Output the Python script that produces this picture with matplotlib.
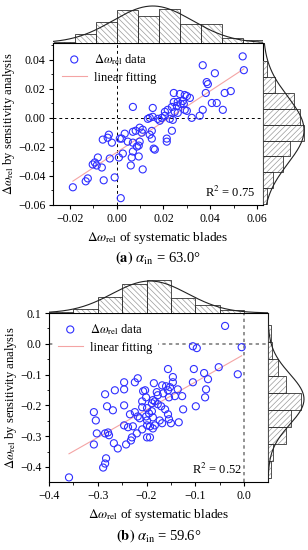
import numpy as np
import matplotlib.pyplot as plt
from matplotlib.ticker import AutoMinorLocator, FuncFormatter, MultipleLocator

plt.rcParams['font.family'] = ['Liberation Serif', 'DejaVu Serif']
plt.rcParams['mathtext.fontset'] = 'stix'
plt.rcParams['hatch.linewidth'] = 0.5

# ---- panel (a) data ----
a_x = [0.0539, 0.0544, 0.0368, 0.0420, 0.0385, 0.0390, 0.0381, 0.0462, 0.0488, 0.0407,
       0.0428, 0.0454, 0.0368, 0.0355, 0.0321, 0.0244, 0.0270, 0.0291, 0.0300, 0.0313,
       0.0244, 0.0261, 0.0283, 0.0257, 0.0274, 0.0287, 0.0236, 0.0218, 0.0206, 0.0248,
       0.0261, 0.0291, 0.0300, 0.0206, 0.0193, 0.0240, 0.0227, 0.0154, 0.0141, 0.0069,
       0.0133, 0.0098, 0.0111, 0.0081, 0.0107, 0.0069, 0.0034, 0.0013, 0.0021, -0.0034,
       -0.0039, -0.0060, -0.0021, 0.0047, 0.0069, 0.0098, 0.0094, 0.0086, 0.0141, 0.0150,
       0.0163, 0.0069, 0.0064, 0.0026, 0.0009, -0.0030, 0.0094, -0.0081, -0.0094, -0.0103,
       -0.0086, -0.0064, 0.0060, 0.0111, -0.0124, -0.0133, -0.0056, -0.0009, -0.0188, 0.0017,
       0.0158, 0.0184, 0.0154, 0.0176, 0.0236, 0.0214, 0.0214, 0.0150]
a_y = [0.0423, 0.0328, 0.0362, 0.0307, 0.0246, 0.0232, 0.0171, 0.0171, 0.0184, 0.0102,
       0.0102, 0.0055, 0.0055, 0.0014, 0.0000, 0.0171, 0.0164, 0.0157, 0.0150, 0.0137,
       0.0109, 0.0109, 0.0116, 0.0082, 0.0096, 0.0096, 0.0075, 0.0055, 0.0041, 0.0041,
       0.0034, 0.0055, 0.0048, 0.0014, 0.0000, -0.0014, -0.0007, 0.0068, 0.0000, 0.0075,
       -0.0007, -0.0068, -0.0082, -0.0089, -0.0102, -0.0096, -0.0109, -0.0143, -0.0143, -0.0116,
       -0.0137, -0.0150, -0.0171, -0.0164, -0.0171, -0.0164, -0.0191, -0.0198, -0.0116, -0.0143,
       -0.0219, -0.0232, -0.0273, -0.0246, -0.0273, -0.0280, -0.0266, -0.0273, -0.0307, -0.0321,
       -0.0328, -0.0342, -0.0328, -0.0355, -0.0417, -0.0437, -0.0430, -0.0410, -0.0478, -0.0553,
       -0.0212, -0.0020, 0.0007, -0.0007, -0.0089, -0.0143, -0.0164, -0.0090]
a_top_edges = [-0.027, -0.018, -0.009, 0.0, 0.009, 0.018, 0.027, 0.036, 0.045, 0.054, 0.063]
a_top_freq = [1, 9, 21, 33, 27, 34, 19, 19, 5, 3]
a_right_edges = [-0.0594, -0.0485, -0.0376, -0.0266, -0.0157, -0.0048, 0.0061, 0.0171, 0.028, 0.039]
a_right_freq = [4, 10, 20, 27, 41, 37, 31, 12, 4]
a_top_norm = (0.0154, 0.017, 37)     # mean, sd, peak
a_right_norm = (-0.0085, 0.023, 41)

# ---- panel (b) data ----
b_x = [-0.039, -0.105, -0.097, -0.005, -0.052, -0.103, -0.082, -0.013, -0.074, -0.105,
       -0.156, -0.078, -0.080, -0.146, -0.146, -0.185, -0.168, -0.160, -0.152, -0.136,
       -0.179, -0.177, -0.166, -0.156, -0.154, -0.127, -0.203, -0.218, -0.246, -0.246,
       -0.224, -0.207, -0.201, -0.285, -0.265, -0.281, -0.269, -0.246, -0.308, -0.304,
       -0.234, -0.224, -0.209, -0.209, -0.199, -0.189, -0.187, -0.201, -0.187, -0.214,
       -0.218, -0.246, -0.238, -0.228, -0.302, -0.285, -0.279, -0.277, -0.220, -0.230,
       -0.209, -0.199, -0.308, -0.267, -0.259, -0.242, -0.232, -0.283, -0.285, -0.289,
       -0.359, -0.183, -0.187, -0.199, -0.099, -0.125, -0.134, -0.156, -0.154, -0.150,
       -0.170, -0.162, -0.177, -0.183, -0.142, -0.189, -0.195, -0.199, -0.193, -0.173,
       -0.168, -0.193]
b_y = [0.058, -0.008, -0.014, -0.011, -0.076, -0.082, -0.095, -0.099, -0.115, -0.125,
       -0.082, -0.148, -0.174, -0.108, -0.125, -0.128, -0.135, -0.138, -0.141, -0.148,
       -0.157, -0.167, -0.161, -0.151, -0.174, -0.170, -0.151, -0.112, -0.125, -0.148,
       -0.125, -0.154, -0.174, -0.164, -0.151, -0.203, -0.216, -0.200, -0.222, -0.249,
       -0.229, -0.222, -0.187, -0.206, -0.209, -0.193, -0.183, -0.236, -0.239, -0.242,
       -0.236, -0.265, -0.271, -0.268, -0.291, -0.291, -0.288, -0.297, -0.291, -0.304,
       -0.278, -0.304, -0.327, -0.323, -0.340, -0.327, -0.314, -0.372, -0.389, -0.402,
       -0.434, -0.265, -0.275, -0.265, -0.203, -0.213, -0.255, -0.229, -0.245, -0.258,
       -0.203, -0.213, -0.196, -0.187, -0.170, -0.219, -0.226, -0.249, -0.268, -0.249,
       -0.258, -0.304]
b_top_edges = [-0.40, -0.35, -0.30, -0.25, -0.20, -0.15, -0.10, -0.05, 0.0]
b_top_freq = [1, 4, 16, 29, 33, 15, 8, 3]
b_right_edges = [-0.435, -0.38, -0.325, -0.27, -0.215, -0.16, -0.105, -0.05, 0.005, 0.06]
b_right_freq = [3, 5, 18, 23, 33, 18, 10, 4, 3]
b_top_norm = (-0.193, 0.077, 32)
b_right_norm = (-0.18, 0.082, 36)

blue = '#2f2fff'
pink = '#f4a4a4'


def fmt(dec):
    return FuncFormatter(lambda v, p: ('%.*f' % (dec, v)).replace('-', '\u2212'))


def draw_panel(fig, rmain, rtop, rright, x, y, xlim, ylim, xstep, ystep, dec_x, dec_y,
               top_edges, top_freq, top_norm, top_max,
               right_edges, right_freq, right_norm, right_max,
               r2, r2pos, dash_col, dash_ls, dash_lw, leg_frame, caption, cap_y):
    ax = fig.add_axes(rmain)
    ax.axhline(0, color=dash_col, ls=dash_ls, lw=dash_lw, zorder=1)
    ax.axvline(0, color=dash_col, ls=dash_ls, lw=dash_lw, zorder=1)
    ax.scatter(x, y, s=26, facecolors='none', edgecolors=blue, linewidths=0.8,
               label=r'$\Delta\omega_{\rm rel}$ data', zorder=3)
    coef = np.polyfit(x, y, 1)
    xs = np.array([min(x), max(x)])
    ax.plot(xs, np.polyval(coef, xs), color=pink, lw=0.8, label='linear fitting', zorder=2)
    ax.set_xlim(*xlim)
    ax.set_ylim(*ylim)
    ax.xaxis.set_major_locator(MultipleLocator(xstep))
    ax.yaxis.set_major_locator(MultipleLocator(ystep))
    ax.xaxis.set_minor_locator(AutoMinorLocator(2))
    ax.yaxis.set_minor_locator(AutoMinorLocator(2))
    ax.xaxis.set_major_formatter(fmt(dec_x))
    ax.yaxis.set_major_formatter(fmt(dec_y))
    ax.tick_params(which='major', direction='out', length=3, width=0.8, labelsize=8.5,
                   top=False, right=False, pad=2.5)
    ax.tick_params(which='minor', direction='out', length=1.8, width=0.6, top=False, right=False)
    for s in ax.spines.values():
        s.set_linewidth(0.8)
    ax.set_xlabel(r'$\Delta\omega_{\rm rel}$ of systematic blades', fontsize=9.5, labelpad=4)
    ax.set_ylabel(r'$\Delta\omega_{\rm rel}$ by sensitivity analysis', fontsize=9, labelpad=1)
    leg = ax.legend(loc='upper left', fontsize=9, frameon=leg_frame, handlelength=2.0,
                    handletextpad=0.6, borderaxespad=0.3, labelspacing=0.4)
    if leg_frame:
        leg.get_frame().set_facecolor('white')
        leg.get_frame().set_edgecolor('none')
        leg.get_frame().set_alpha(1)
    ax.text(r2pos[0], r2pos[1], r2, transform=ax.transAxes, ha='right', va='center', fontsize=9)

    # top histogram
    at = fig.add_axes(rtop)
    w = np.diff(top_edges)
    at.bar(top_edges[:-1], top_freq, width=w, align='edge', color='white',
           edgecolor='#9a9a9a', linewidth=0, hatch='\\\\\\\\\\\\')
    at.bar(top_edges[:-1], top_freq, width=w, align='edge', fill=False,
           edgecolor='#333333', linewidth=0.6)
    gx = np.linspace(xlim[0], xlim[1], 300)
    at.plot(gx, top_norm[2] * np.exp(-0.5 * ((gx - top_norm[0]) / top_norm[1]) ** 2),
            color='#222222', lw=0.8)
    at.set_xlim(*xlim)
    at.set_ylim(0, top_max)
    at.axis('off')

    # right histogram
    ar = fig.add_axes(rright)
    h = np.diff(right_edges)
    ar.barh(right_edges[:-1], right_freq, height=h, align='edge', color='white',
            edgecolor='#9a9a9a', linewidth=0, hatch='//////')
    ar.barh(right_edges[:-1], right_freq, height=h, align='edge', fill=False,
            edgecolor='#333333', linewidth=0.6)
    gy = np.linspace(ylim[0], ylim[1], 300)
    ar.plot(right_norm[2] * np.exp(-0.5 * ((gy - right_norm[0]) / right_norm[1]) ** 2), gy,
            color='#222222', lw=0.8)
    ar.set_ylim(*ylim)
    ar.set_xlim(0, right_max)
    ar.axis('off')

    cx = rmain[0] + rmain[2] / 2
    fig.text(cx, cap_y, caption, ha='center', va='center', fontsize=10.5)


fig = plt.figure(figsize=(3.08, 5.50), dpi=100)

draw_panel(fig, [0.1721, 0.6273, 0.6818, 0.2945], [0.1721, 0.9218, 0.6818, 0.0782],
           [0.8539, 0.6273, 0.1461, 0.2945], a_x, a_y, (-0.0273, 0.0626), (-0.06, 0.0515),
           0.02, 0.02, 2, 2,
           a_top_edges, a_top_freq, a_top_norm, 43,
           a_right_edges, a_right_freq, a_right_norm, 45,
           r'R$^2$ = 0.75', (0.965, 0.08), 'black', (0, (3, 3)), 0.7, False,
           r'$\mathbf{(a)}$ $\alpha_{\mathrm{in}}$ = 63.0°', 0.531)

draw_panel(fig, [0.1591, 0.1236, 0.7110, 0.3073], [0.1591, 0.4309, 0.7110, 0.0727],
           [0.8701, 0.1236, 0.1299, 0.3073], b_x, b_y, (-0.4, 0.049), (-0.449, 0.1),
           0.1, 0.1, 1, 1,
           b_top_edges, b_top_freq, b_top_norm, 40,
           b_right_edges, b_right_freq, b_right_norm, 40,
           r'R$^2$ = 0.52', (0.88, 0.072), '#808080', (0, (2, 2)), 1.2, True,
           r'$\mathbf{(b)}$ $\alpha_{\mathrm{in}}$ = 59.6°', 0.027)

fig.savefig('out.png', dpi=100)
